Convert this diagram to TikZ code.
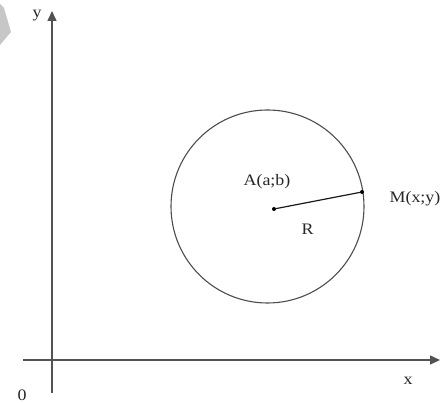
\documentclass[tikz,border=0pt]{standalone}
\usepackage{fontspec}
\setmainfont{Liberation Serif}
\usetikzlibrary{arrows.meta}
\begin{document}
\begin{tikzpicture}[x=1pt,y=-1pt,
  axis/.style={draw=black!68, line width=1.4pt, -{Triangle[length=10pt,width=9pt]}},
  lbl/.style={font=\fontsize{16}{16}\selectfont, inner sep=0pt, xscale=1.12, text=black!85},
  pt/.style={circle, fill=black, inner sep=0pt, minimum size=4pt}]
\useasboundingbox (0,0) rectangle (448,403);
\fill[black!22] (0,4) -- (4,8) -- (11,32) -- (0,45) -- cycle;
% axes
\coordinate (yb) at (52,393);
\coordinate (yt) at (52,11);
\coordinate (xl) at (23,360);
\coordinate (xr) at (440,360);
\draw[axis] (yb) -- (yt);
\draw[axis] (xl) -- (xr);
\node[lbl] (ylab) at (37,16) {y};
\node[lbl] (xlab) at (408,381) {x};
\node[lbl] (olab) at (22,395) {0};
% circle
\node[draw=black!70, line width=1.1pt, circle, minimum size=193pt, inner sep=0pt] (C) at (267.5,206.5) {};
\node[pt] (A) at (274,209) {};
\node[pt] (M) at (362,192) {};
\draw[line width=1.2pt, black!90] (A) -- (M);
\node[lbl] (Alab) at (267,182) {A(a;b)};
\node[lbl] (Rlab) at (307.5,229) {R};
\node[lbl] (Mlab) at (415,199) {M(x;y)};
\end{tikzpicture}
\end{document}
